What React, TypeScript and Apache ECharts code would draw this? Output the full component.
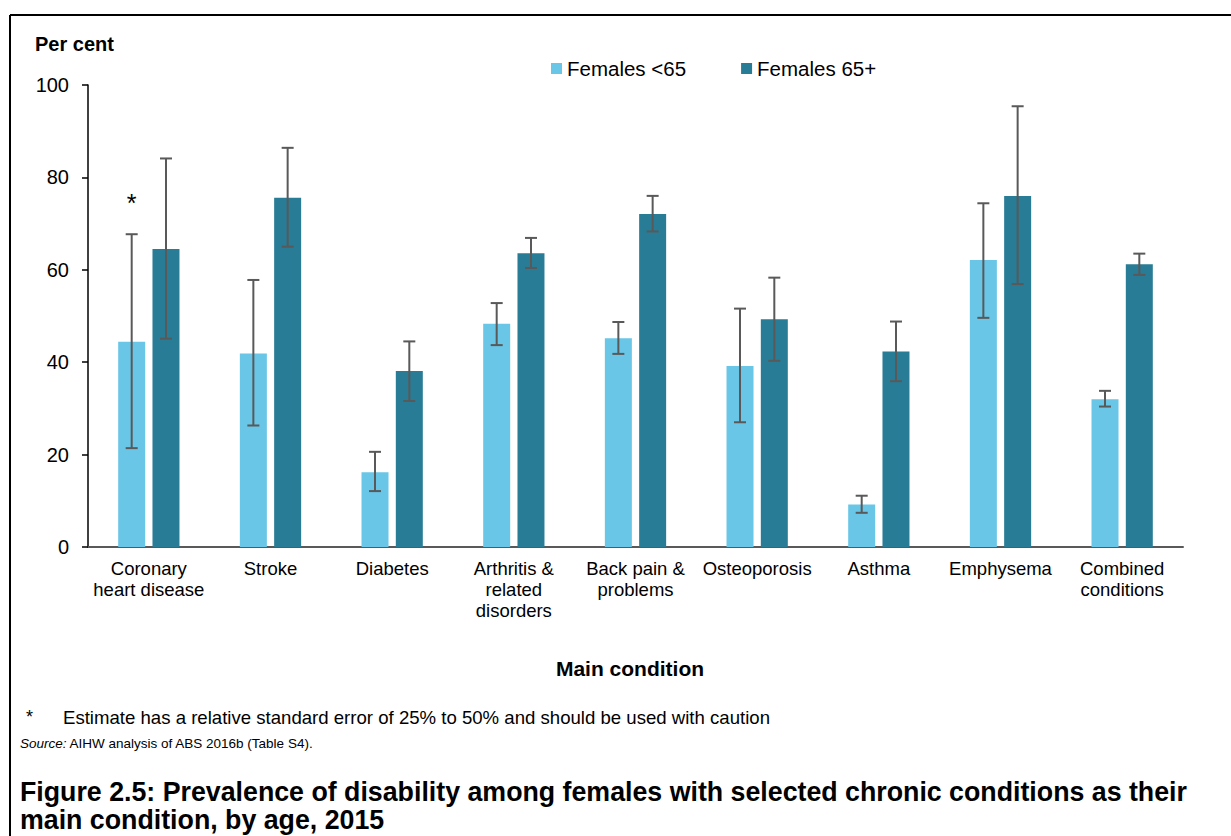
import React, { useEffect, useRef } from "react";
import * as echarts from "echarts";

// Main condition categories (x axis)
const categories = [
  "Coronary\nheart disease",
  "Stroke",
  "Diabetes",
  "Arthritis &\nrelated\ndisorders",
  "Back pain &\nproblems",
  "Osteoporosis",
  "Asthma",
  "Emphysema",
  "Combined\nconditions",
];

const seriesNames = ["Females <65", "Females 65+"];

// Prevalence of disability (per cent), females aged under 65
const under65 = [44.4, 41.9, 16.2, 48.3, 45.2, 39.2, 9.2, 62.1, 32.0];
const under65Low = [21.4, 26.3, 12.1, 43.7, 41.8, 27.0, 7.4, 49.6, 30.4];
const under65High = [67.7, 57.8, 20.6, 52.8, 48.7, 51.6, 11.1, 74.4, 33.8];
// 1 = relative standard error of 25% to 50%
const under65Rse = [1, 0, 0, 0, 0, 0, 0, 0, 0];

// Prevalence of disability (per cent), females aged 65 and over
const over65 = [64.5, 75.6, 38.1, 63.6, 72.1, 49.3, 42.3, 76.0, 61.2];
const over65Low = [45.1, 65.0, 31.6, 60.4, 68.3, 40.3, 35.9, 56.9, 58.9];
const over65High = [84.1, 86.4, 44.5, 66.9, 76.0, 58.3, 48.8, 95.4, 63.5];
const over65Rse = [0, 0, 0, 0, 0, 0, 0, 0, 0];

const yTicks = { min: 0, max: 100, interval: 20 };

const FONT = 'Arial, "Liberation Sans", Helvetica, sans-serif';
const LIGHT = "#69C6E6";
const DARK = "#297C96";
const ERR = "#595959";
const BAR_WIDTH = 27;
const BAR_GAP = 0.27;
const HALF_STEP = (BAR_WIDTH * (1 + BAR_GAP)) / 2;

function errorSeries(low: number[], high: number[], flags: number[], offset: number) {
  return {
    type: "custom",
    z: 5,
    silent: true,
    encode: { x: 0, y: [1, 2] },
    data: categories.map((_, i) => [i, low[i], high[i], flags[i]]),
    renderItem: (params: any, api: any) => {
      const idx = api.value(0);
      const top = api.coord([idx, api.value(2)]);
      const bottom = api.coord([idx, api.value(1)]);
      const x = top[0] + offset;
      const cap = 6;
      const style = { stroke: ERR, lineWidth: 2 };
      const children: any[] = [
        { type: "line", shape: { x1: x, y1: top[1], x2: x, y2: bottom[1] }, style },
        { type: "line", shape: { x1: x - cap, y1: top[1], x2: x + cap, y2: top[1] }, style },
        { type: "line", shape: { x1: x - cap, y1: bottom[1], x2: x + cap, y2: bottom[1] }, style },
      ];
      if (api.value(3) === 1) {
        children.push({
          type: "text",
          x,
          y: top[1] - 31,
          style: {
            text: "*",
            fill: "#000",
            font: `25px ${FONT}`,
            align: "center",
            verticalAlign: "middle",
          },
        });
      }
      return { type: "group", children };
    },
  };
}

export default function App() {
  const ref = useRef<HTMLDivElement>(null);

  useEffect(() => {
    if (!ref.current) return;
    const chart = echarts.init(ref.current, undefined, { renderer: "svg" });
    chart.setOption({
      animation: false,
      backgroundColor: "#fff",
      textStyle: { fontFamily: FONT },
      grid: { left: 88, right: 48, top: 85, bottom: 289, containLabel: false },
      legend: {
        data: seriesNames,
        left: 546,
        top: 53,
        icon: "rect",
        itemWidth: 11,
        itemHeight: 11,
        itemGap: 55,
        textStyle: { fontSize: 20.5, color: "#000", fontFamily: FONT },
      },
      xAxis: {
        type: "category",
        data: categories,
        axisLine: { lineStyle: { color: "#595959", width: 2 } },
        axisTick: { show: false },
        axisLabel: {
          interval: 0,
          margin: 11,
          fontSize: 18.5,
          lineHeight: 21,
          color: "#000",
          fontFamily: FONT,
        },
        splitLine: { show: false },
      },
      yAxis: {
        type: "value",
        min: yTicks.min,
        max: yTicks.max,
        interval: yTicks.interval,
        axisLine: { show: true, lineStyle: { color: "#000", width: 1.5 } },
        axisTick: { show: true, length: 6, lineStyle: { color: "#000", width: 1.5 } },
        axisLabel: { fontSize: 20, color: "#000", margin: 19, fontFamily: FONT },
        splitLine: { show: false },
      },
      series: [
        {
          name: seriesNames[0],
          type: "bar",
          data: under65,
          barWidth: BAR_WIDTH,
          barGap: `${BAR_GAP * 100}%`,
          itemStyle: { color: LIGHT },
        },
        {
          name: seriesNames[1],
          type: "bar",
          data: over65,
          barWidth: BAR_WIDTH,
          barGap: `${BAR_GAP * 100}%`,
          itemStyle: { color: DARK },
        },
        errorSeries(under65Low, under65High, under65Rse, -HALF_STEP),
        errorSeries(over65Low, over65High, over65Rse, HALF_STEP),
      ],
      graphic: [
        { type: "line", shape: { x1: 10, y1: 15, x2: 1231, y2: 15 }, style: { stroke: "#000", lineWidth: 2 } },
        { type: "line", shape: { x1: 10, y1: 15, x2: 10, y2: 836 }, style: { stroke: "#000", lineWidth: 2 } },
        {
          type: "text",
          left: 35,
          top: 34,
          style: { text: "Per cent", font: `bold 20px ${FONT}`, fill: "#000" },
        },
        {
          type: "text",
          x: 630,
          y: 668,
          style: {
            text: "Main condition",
            font: `bold 21px ${FONT}`,
            fill: "#000",
            align: "center",
            verticalAlign: "middle",
          },
        },
        {
          type: "text",
          left: 26,
          top: 708,
          style: { text: "*", font: `18px ${FONT}`, fill: "#000" },
        },
        {
          type: "text",
          left: 63,
          top: 708,
          style: {
            text: "Estimate has a relative standard error of 25% to 50% and should be used with caution",
            font: `18.6px ${FONT}`,
            fill: "#000",
          },
        },
        {
          type: "text",
          left: 20,
          top: 736,
          style: {
            text: "{i|Source:} AIHW analysis of ABS 2016b (Table S4).",
            font: `13.5px ${FONT}`,
            fill: "#000",
            rich: { i: { fontStyle: "italic", fontSize: 13.5, fontFamily: FONT, fill: "#000" } },
          },
        },
        {
          type: "text",
          left: 20,
          top: 778,
          style: {
            text:
              "Figure 2.5: Prevalence of disability among females with selected chronic conditions as their\nmain condition, by age, 2015",
            font: `bold 26.75px ${FONT}`,
            lineHeight: 28,
            fill: "#000",
          },
        },
      ],
    });
    return () => chart.dispose();
  }, []);

  return (
    <div
      ref={ref}
      style={{ position: "absolute", left: 0, top: 0, width: 1231, height: 836, background: "#fff" }}
    />
  );
}
